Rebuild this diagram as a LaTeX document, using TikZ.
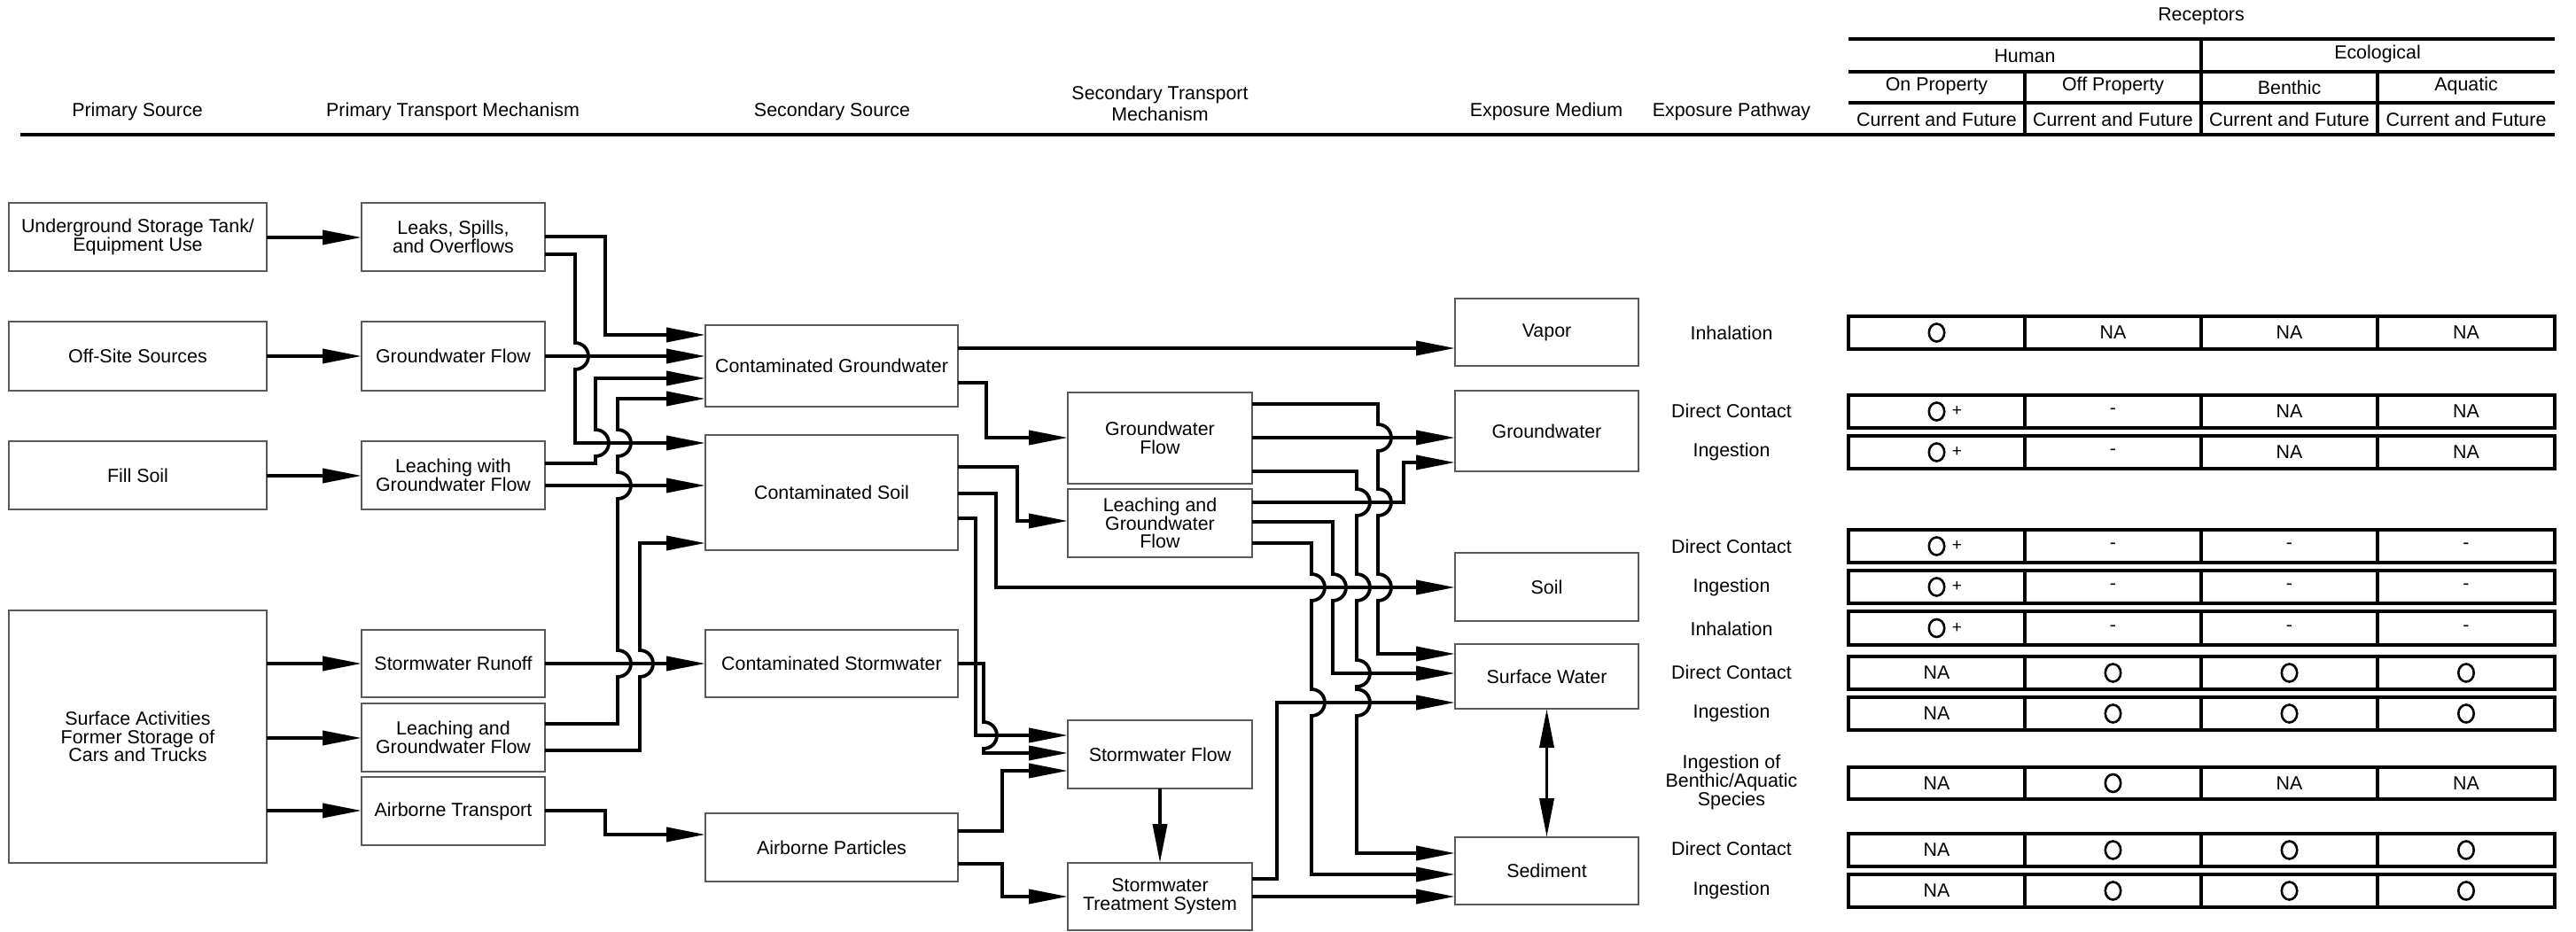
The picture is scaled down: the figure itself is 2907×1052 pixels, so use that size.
\documentclass[tikz,border=0pt]{standalone}
\usepackage{fontspec}
\setmainfont{Liberation Sans}
\usetikzlibrary{arrows.meta,shapes.geometric}
\newcommand\mkbox[6]{%
  \pgfmathsetmacro\bw{(#4-#2)*0.5}%
  \pgfmathsetmacro\bh{(#5-#3)*0.5}%
  \node[box, minimum width=\bw pt, minimum height=\bh pt] (#1) at ({(#2+#4)/2},{(#3+#5)/2}) {#6};}
\newcommand\cO[3]{\node[ocirc] (#1) at (#2,#3) {};}
\newcommand\cOp[3]{\node[ocirc] (#1) at (#2,#3) {};\node[plusmark] (#1p) at ({#2+23},#3) {+};}
\newcommand\cNA[3]{\node[lbl] (#1) at (#2,#3) {NA};}
\newcommand\cDash[3]{\node[lbl] (#1) at (#2,#3) {-};}
\tikzset{
  x=0.5pt, y=-0.5pt,
  txt/.style={font=\fontsize{10.7pt}{10.3pt}\selectfont},
  box/.style={txt, draw=black!65, line width=0.7pt, align=center, inner sep=1pt, outer sep=0pt},
  con/.style={line width=1.9pt, -{Triangle[length=22pt,width=8pt]}},
  dcon/.style={line width=1.9pt, {Triangle[length=22pt,width=8pt]}-{Triangle[length=22pt,width=8pt]}},
  hopd/.style args={#1/#2}{insert path={-- (#1,{#2-15}) arc[start angle=90,end angle=-90,radius=7.5pt]}},
  hopu/.style args={#1/#2}{insert path={-- (#1,{#2+15}) arc[start angle=-90,end angle=90,radius=7.5pt]}},
  lbl/.style={txt, align=center, inner sep=0pt},
  tline/.style={line width=1.7pt},
  rowbox/.style={line width=1.7pt},
  ocirc/.style={ellipse, draw, line width=1.3pt, minimum width=8.7pt, minimum height=10pt, inner sep=0pt},
  plusmark/.style={font=\fontsize{9.5pt}{9.5pt}\selectfont, inner sep=0pt},
}
\begin{document}
\begin{tikzpicture}
\useasboundingbox (0,0) rectangle (2907,1052);
% ---------- column headers
\node[lbl] (hps) at (155,126) {Primary Source};
\node[lbl] (hptm) at (511,126) {Primary Transport Mechanism};
\node[lbl] (hss) at (939,126) {Secondary Source};
\node[lbl] (hstm) at (1309,117) {Secondary Transport\\[2pt]Mechanism};
\node[lbl] (hem) at (1745,126) {Exposure Medium};
\node[lbl] (hep) at (1954,126) {Exposure Pathway};
\node[lbl] (hrec) at (2484,18) {Receptors};
\node[lbl] (hhum) at (2285,63) {Human};
\node[lbl] (heco) at (2683,61) {Ecological};
\node[lbl] (hon) at (2185.5,97) {On Property};
\node[lbl] (hoff) at (2384.5,97) {Off Property};
\node[lbl] (hben) at (2583.5,99) {Benthic};
\node[lbl] (haq) at (2783,97) {Aquatic};
\foreach \xx [count=\k] in {2185.5,2384.5,2583.5,2783}
  \node[lbl] (hcf\k) at (\xx,135) {Current and Future};
\draw[tline] (2086,44) -- (2883,44);
\draw[tline] (2086,81) -- (2883,81);
\draw[tline] (2086,116) -- (2883,116);
\draw[tline] (23,152) -- (2883,152);
\draw[tline] (2484,44) -- (2484,152);
\draw[tline] (2285,81) -- (2285,152);
\draw[tline] (2683,81) -- (2683,152);
% ---------- boxes
\mkbox{ust}{10}{229}{301}{306}{Underground Storage Tank/\\Equipment Use}
\mkbox{off}{10}{363}{301}{441}{Off-Site Sources}
\mkbox{fill}{10}{498}{301}{575}{Fill Soil}
\mkbox{sa}{10}{689}{301}{974}{Surface Activities\\Former Storage of\\Cars and Trucks}
\mkbox{lso}{408}{229}{615}{306}{Leaks, Spills,\\and Overflows}
\mkbox{gwf}{408}{363}{615}{441}{Groundwater Flow}
\mkbox{lgf}{408}{498}{615}{575}{Leaching with\\Groundwater Flow}
\mkbox{swr}{408}{711}{615}{787}{Stormwater Runoff}
\mkbox{lgfb}{408}{794}{615}{871}{Leaching and\\Groundwater Flow}
\mkbox{atr}{408}{877}{615}{954}{Airborne Transport}
\mkbox{cgw}{796}{367}{1081}{459}{Contaminated Groundwater}
\mkbox{cs}{796}{491}{1081}{621}{Contaminated Soil}
\mkbox{csw}{796}{711}{1081}{787}{Contaminated Stormwater}
\mkbox{ap}{796}{918}{1081}{995}{Airborne Particles}
\mkbox{sgf}{1205}{443}{1413}{546}{Groundwater\\Flow}
\mkbox{lgfc}{1205}{552}{1413}{629}{Leaching and\\Groundwater\\Flow}
\mkbox{swf}{1205}{813}{1413}{890}{Stormwater Flow}
\mkbox{sts}{1205}{974}{1413}{1050}{Stormwater\\Treatment System}
\mkbox{vap}{1642}{337}{1849}{413}{Vapor}
\mkbox{gwe}{1642}{441}{1849}{532}{Groundwater}
\mkbox{soil}{1642}{624}{1849}{701}{Soil}
\mkbox{sw}{1642}{727}{1849}{800}{Surface Water}
\mkbox{sed}{1642}{945}{1849}{1021}{Sediment}
% ---------- connectors
\draw[con] (ust.east |- 0,268) -- (lso.west |- 0,268);
\draw[con] (off.east |- 0,402) -- (gwf.west |- 0,402);
\draw[con] (fill.east |- 0,537) -- (lgf.west |- 0,537);
\draw[con] (sa.east |- 0,749) -- (swr.west |- 0,749);
\draw[con] (sa.east |- 0,833) -- (lgfb.west |- 0,833);
\draw[con] (sa.east |- 0,915) -- (atr.west |- 0,915);
\draw[con] (lso.east |- 0,267) -- (683,267) -- (683,378) -- (cgw.west |- 0,378);
\draw[con] (lso.east |- 0,287) -- (649,287) [hopd=649/402] -- (649,500) -- (cs.west |- 0,500);
\draw[con] (gwf.east |- 0,402) -- (cgw.west |- 0,402);
\draw[con] (lgf.east |- 0,523) -- (672,523) [hopu=672/500] -- (672,427) -- (cgw.west |- 0,427);
\draw[con] (lgf.east |- 0,548) -- (cs.west |- 0,548);
\draw[con] (lgfb.east |- 0,817) -- (697,817) [hopu=697/749] [hopu=697/548] [hopu=697/500] -- (697,450) -- (cgw.west |- 0,450);
\draw[con] (lgfb.east |- 0,847) -- (722,847) [hopu=722/749] -- (722,613) -- (cs.west |- 0,613);
\draw[con] (swr.east |- 0,749) -- (csw.west |- 0,749);
\draw[con] (atr.east |- 0,915) -- (683,915) -- (683,942) -- (ap.west |- 0,942);
\draw[con] (cgw.east |- 0,393) -- (vap.west |- 0,393);
\draw[con] (cgw.east |- 0,432) -- (1113,432) -- (1113,494) -- (sgf.west |- 0,494);
\draw[con] (cs.east |- 0,527) -- (1148,527) -- (1148,588) -- (lgfc.west |- 0,588);
\draw[con] (cs.east |- 0,557) -- (1124,557) -- (1124,663) -- (soil.west |- 0,663);
\draw[con] (cs.east |- 0,585) -- (1101,585) -- (1101,830) -- (swf.west |- 0,830);
\draw[con] (csw.east |- 0,749) -- (1110,749) [hopd=1110/830] -- (1110,850) -- (swf.west |- 0,850);
\draw[con] (ap.east |- 0,938) -- (1131,938) -- (1131,870) -- (swf.west |- 0,870);
\draw[con] (ap.east |- 0,975) -- (1131,975) -- (1131,1012) -- (sts.west |- 0,1012);
\draw[con] (swf.south) -- (sts.north);
\draw[con] (sgf.east |- 0,456) -- (1555,456) [hopd=1555/494] [hopd=1555/567] [hopd=1555/663] -- (1555,738) -- (sw.west |- 0,738);
\draw[con] (sgf.east |- 0,494) -- (gwe.west |- 0,494);
\draw[con] (sgf.east |- 0,532) -- (1531,532) [hopd=1531/567] [hopd=1531/663] [hopd=1531/760] [hopd=1531/793] -- (1531,963) -- (sed.west |- 0,963);
\draw[con] (lgfc.east |- 0,567) -- (1584,567) -- (1584,522) -- (gwe.west |- 0,522);
\draw[con] (lgfc.east |- 0,589) -- (1504,589) [hopd=1504/663] -- (1504,760) -- (sw.west |- 0,760);
\draw[con] (lgfc.east |- 0,613) -- (1480,613) [hopd=1480/663] [hopd=1480/793] -- (1480,987) -- (sed.west |- 0,987);
\draw[con] (sts.east |- 0,992) -- (1441,992) -- (1441,793) -- (sw.west |- 0,793);
\draw[con] (sts.east |- 0,1012) -- (sed.west |- 0,1012);
\draw[dcon] (sw.south) -- (sed.north);
% ---------- exposure pathways
\node[lbl] (p1) at (1954,376) {Inhalation};
\node[lbl] (p2) at (1954,464) {Direct Contact};
\node[lbl] (p3) at (1954,510) {Ingestion};
\node[lbl] (p4) at (1954,617) {Direct Contact};
\node[lbl] (p5) at (1954,663) {Ingestion};
\node[lbl] (p6) at (1954,710) {Inhalation};
\node[lbl] (p7) at (1954,759) {Direct Contact};
\node[lbl] (p8) at (1954,805) {Ingestion};
\node[lbl] (p9) at (1954,883) {Ingestion of\\Benthic/Aquatic\\Species};
\node[lbl] (p10) at (1954,958) {Direct Contact};
\node[lbl] (p11) at (1954,1005) {Ingestion};
% ---------- receptor table rows
\foreach \ya/\yb/\pA/\pB/\pC/\pD [count=\i] in {
  357/394/\cO/\cNA/\cNA/\cNA,
  446/483/\cOp/\cDash/\cNA/\cNA,
  492/529/\cOp/\cDash/\cNA/\cNA,
  598/635/\cOp/\cDash/\cDash/\cDash,
  644/681/\cOp/\cDash/\cDash/\cDash,
  690/728/\cOp/\cDash/\cDash/\cDash,
  741/778/\cNA/\cO/\cO/\cO,
  787/824/\cNA/\cO/\cO/\cO,
  866/902/\cNA/\cO/\cNA/\cNA,
  941/978/\cNA/\cO/\cO/\cO,
  987/1024/\cNA/\cO/\cO/\cO}{
  \pgfmathsetmacro\ym{(\ya+\yb)/2}
  \draw[rowbox] (2086,\ya) rectangle (2883,\yb);
  \foreach \xx in {2285,2484,2683} \draw[rowbox] (\xx,\ya) -- (\xx,\yb);
  \pA{r\i-a}{2185.5}{\ym}
  \pB{r\i-b}{2384.5}{\ym}
  \pC{r\i-c}{2583.5}{\ym}
  \pD{r\i-d}{2783}{\ym}
}
\end{tikzpicture}
\end{document}
